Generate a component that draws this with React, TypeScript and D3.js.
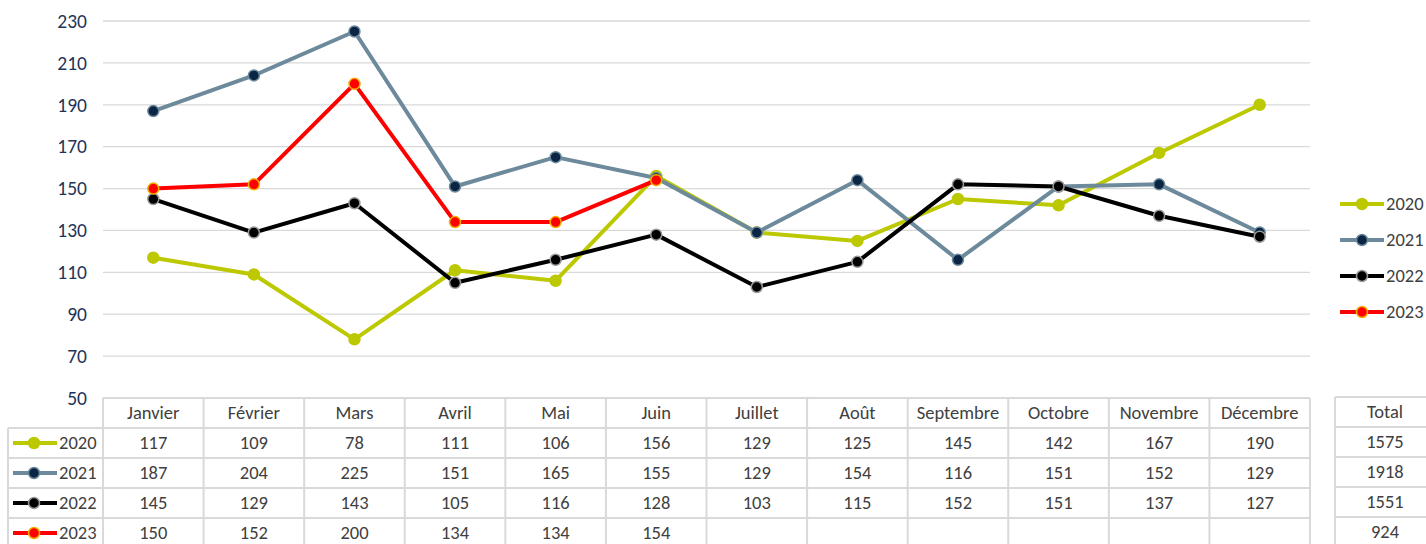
import React, { useEffect, useRef } from "react";
import * as d3 from "d3";

const months = [
  "Janvier",
  "Février",
  "Mars",
  "Avril",
  "Mai",
  "Juin",
  "Juillet",
  "Août",
  "Septembre",
  "Octobre",
  "Novembre",
  "Décembre",
];
const years = ["2020", "2021", "2022", "2023"];
const values2020 = [117, 109, 78, 111, 106, 156, 129, 125, 145, 142, 167, 190];
const values2021 = [187, 204, 225, 151, 165, 155, 129, 154, 116, 151, 152, 129];
const values2022 = [145, 129, 143, 105, 116, 128, 103, 115, 152, 151, 137, 127];
const values2023: (number | null)[] = [150, 152, 200, 134, 134, 154, null, null, null, null, null, null];
const yTicks = [50, 70, 90, 110, 130, 150, 170, 190, 210, 230];

const styles = [
  { line: "#bcc800", fill: "#bcc800", stroke: "#bcc800" },
  { line: "#6c8a9b", fill: "#0b2545", stroke: "#6c8a9b" },
  { line: "#000000", fill: "#000000", stroke: "#9a9a9a" },
  { line: "#ff0000", fill: "#ff0000", stroke: "#f0b000" },
];

const App = () => {
  const ref = useRef(null);

  useEffect(() => {
    const width = 1426;
    const height = 544;
    const left = 103;
    const right = 1310;
    const top = 21;
    const bottom = 398;
    const rowH = 30;
    const font = "Carlito, 'Open Sans', 'Liberation Sans', sans-serif";
    const fs = "18.5px";
    const series = [values2020, values2021, values2022, values2023];

    d3.select(ref.current).selectAll("*").remove();
    const svg = d3
      .select(ref.current)
      .append("svg")
      .attr("width", width)
      .attr("height", height)
      .style("display", "block")
      .style("font-family", font);

    const x = d3.scaleBand().domain(months).range([left, right]);
    const y = d3.scaleLinear().domain([50, 230]).range([bottom, top]);

    // gridlines + y labels
    svg
      .selectAll(".grid")
      .data(yTicks)
      .enter()
      .append("line")
      .attr("x1", left)
      .attr("x2", right)
      .attr("y1", (d) => y(d))
      .attr("y2", (d) => y(d))
      .style("stroke", "#d9d9d9")
      .style("stroke-width", "1.3px");

    svg
      .selectAll(".ylab")
      .data(yTicks)
      .enter()
      .append("text")
      .attr("x", 87)
      .attr("y", (d) => y(d))
      .attr("dy", "0.35em")
      .attr("text-anchor", "end")
      .style("font-size", "19.5px")
      .style("fill", "#1f3557")
      .text((d) => d);

    // lines
    const line = d3
      .line<number | null>()
      .defined((d) => d !== null)
      .x((d, i) => (x(months[i]) as number) + x.bandwidth() / 2)
      .y((d) => y(d as number));

    series.forEach((vals, s) => {
      const g = svg.append("g");
      g.append("path")
        .attr("d", line(vals))
        .style("fill", "none")
        .style("stroke", styles[s].line)
        .style("stroke-width", "4px")
        .style("stroke-linejoin", "round");
      g.selectAll("circle")
        .data(vals.map((v, i) => [i, v]).filter((d) => d[1] !== null))
        .enter()
        .append("circle")
        .attr("cx", (d) => (x(months[d[0] as number]) as number) + x.bandwidth() / 2)
        .attr("cy", (d) => y(d[1] as number))
        .attr("r", 5.5)
        .style("fill", styles[s].fill)
        .style("stroke", styles[s].stroke)
        .style("stroke-width", "1.5px");
    });

    // right legend
    years.forEach((yr, s) => {
      const ly = 204 + s * 36;
      const g = svg.append("g");
      g.append("line")
        .attr("x1", 1340)
        .attr("x2", 1384)
        .attr("y1", ly)
        .attr("y2", ly)
        .style("stroke", styles[s].line)
        .style("stroke-width", "4px");
      g.append("circle")
        .attr("cx", 1362)
        .attr("cy", ly)
        .attr("r", 5.5)
        .style("fill", styles[s].fill)
        .style("stroke", styles[s].stroke)
        .style("stroke-width", "1.5px");
      g.append("text")
        .attr("x", 1386)
        .attr("y", ly)
        .attr("dy", "0.35em")
        .style("font-size", fs)
        .style("fill", "#404040")
        .text(yr);
    });

    // data table
    const border = "#d9d9d9";
    const table = svg.append("g");
    const rowTop = (r: number) => bottom + r * rowH;

    for (let r = 0; r <= 5; r++) {
      table
        .append("line")
        .attr("x1", r === 0 ? left : 8)
        .attr("x2", right)
        .attr("y1", rowTop(r))
        .attr("y2", rowTop(r))
        .style("stroke", border)
        .style("stroke-width", "2px");
    }
    table
      .append("line")
      .attr("x1", 8)
      .attr("x2", 8)
      .attr("y1", rowTop(1))
      .attr("y2", height)
      .style("stroke", border)
      .style("stroke-width", "2px");
    [...months.map((m) => x(m) as number), right].forEach((xx) => {
      table
        .append("line")
        .attr("x1", xx)
        .attr("x2", xx)
        .attr("y1", rowTop(0))
        .attr("y2", height)
        .style("stroke", border)
        .style("stroke-width", "2px");
    });

    table
      .selectAll(".hdr")
      .data(months)
      .enter()
      .append("text")
      .attr("x", (d) => (x(d) as number) + x.bandwidth() / 2)
      .attr("y", rowTop(0) + rowH / 2)
      .attr("dy", "0.35em")
      .attr("text-anchor", "middle")
      .style("font-size", fs)
      .style("fill", "#404040")
      .text((d) => d);

    series.forEach((vals, s) => {
      const cy = rowTop(s + 1) + rowH / 2;
      table
        .append("line")
        .attr("x1", 13)
        .attr("x2", 57)
        .attr("y1", cy)
        .attr("y2", cy)
        .style("stroke", styles[s].line)
        .style("stroke-width", "4px");
      table
        .append("circle")
        .attr("cx", 34)
        .attr("cy", cy)
        .attr("r", 5.5)
        .style("fill", styles[s].fill)
        .style("stroke", styles[s].stroke)
        .style("stroke-width", "1.5px");
      table
        .append("text")
        .attr("x", 59)
        .attr("y", cy)
        .attr("dy", "0.35em")
        .style("font-size", fs)
        .style("fill", "#404040")
        .text(years[s]);
      vals.forEach((v, i) => {
        if (v === null) return;
        table
          .append("text")
          .attr("x", (x(months[i]) as number) + x.bandwidth() / 2)
          .attr("y", cy)
          .attr("dy", "0.35em")
          .attr("text-anchor", "middle")
          .style("font-size", fs)
          .style("fill", "#404040")
          .text(v);
      });
    });

    // total box
    const tx0 = 1335;
    const tx1 = 1427;
    for (let r = 0; r <= 5; r++) {
      table
        .append("line")
        .attr("x1", tx0)
        .attr("x2", tx1)
        .attr("y1", rowTop(r) - 1)
        .attr("y2", rowTop(r) - 1)
        .style("stroke", border)
        .style("stroke-width", "2px");
    }
    table
      .append("line")
      .attr("x1", tx0)
      .attr("x2", tx0)
      .attr("y1", rowTop(0) - 1)
      .attr("y2", height)
      .style("stroke", border)
      .style("stroke-width", "2px");
    const totals = series.map((vals) => d3.sum(vals.filter((v) => v !== null) as number[]));
    ["Total", ...totals.map(String)].forEach((t, r) => {
      table
        .append("text")
        .attr("x", 1385)
        .attr("y", rowTop(r) + rowH / 2 - 1)
        .attr("dy", "0.35em")
        .attr("text-anchor", "middle")
        .style("font-size", fs)
        .style("fill", "#404040")
        .text(t);
    });
  }, []);

  return (
    <div
      ref={ref}
      style={{ position: "absolute", left: 0, top: 0, width: 1426, height: 544 }}
    ></div>
  );
};

export default App;
